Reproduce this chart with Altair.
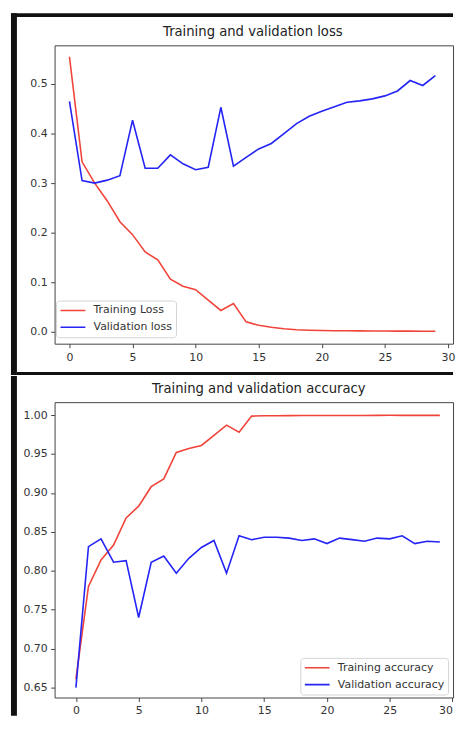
import altair as alt
import pandas as pd

epochs = [0, 1, 2, 3, 4, 5, 6, 7, 8, 9, 10, 11, 12, 13, 14,
          15, 16, 17, 18, 19, 20, 21, 22, 23, 24, 25, 26, 27, 28, 29]

train_loss = [0.555, 0.343, 0.300, 0.264, 0.222, 0.196, 0.161, 0.145, 0.106, 0.092,
              0.085, 0.064, 0.043, 0.057, 0.020, 0.013, 0.009, 0.006, 0.004, 0.003,
              0.0025, 0.002, 0.002, 0.0018, 0.0016, 0.0015, 0.0014, 0.0013, 0.0012, 0.0011]
val_loss = [0.465, 0.305, 0.300, 0.306, 0.315, 0.427, 0.330, 0.330, 0.357, 0.339,
            0.327, 0.332, 0.453, 0.334, 0.352, 0.369, 0.380, 0.400, 0.420, 0.435,
            0.445, 0.454, 0.463, 0.466, 0.470, 0.476, 0.486, 0.507, 0.497, 0.517]

train_acc = [0.661, 0.780, 0.814, 0.833, 0.868, 0.883, 0.908, 0.918, 0.952, 0.957,
             0.961, 0.974, 0.987, 0.978, 0.9986, 0.9990, 0.9992, 0.9993, 0.9994, 0.9995,
             0.9995, 0.9994, 0.9995, 0.9995, 0.9996, 0.9997, 0.9996, 0.9996, 0.9996, 0.9996]
val_acc = [0.650, 0.831, 0.841, 0.811, 0.813, 0.740, 0.811, 0.819, 0.797, 0.816,
           0.830, 0.839, 0.797, 0.845, 0.840, 0.843, 0.843, 0.842, 0.839, 0.841,
           0.835, 0.842, 0.840, 0.838, 0.842, 0.841, 0.845, 0.835, 0.838, 0.837]

loss_names = ["Training Loss", "Validation loss"]
acc_names = ["Training accuracy", "Validation accuracy"]
loss_title = "Training and validation loss"
acc_title = "Training and validation accuracy"
x_ticks = [0, 5, 10, 15, 20, 25, 30]
loss_ticks = [0.0, 0.1, 0.2, 0.3, 0.4, 0.5]
acc_ticks = [0.65, 0.70, 0.75, 0.80, 0.85, 0.90, 0.95, 1.00]

RED = "#f0443a"
BLUE = "#2424f5"
FONT = "DejaVu Sans"
INK = "#111111"

loss_df = pd.DataFrame({
    "epoch": epochs + epochs,
    "value": train_loss + val_loss,
    "series": [loss_names[0]] * len(epochs) + [loss_names[1]] * len(epochs),
})
acc_df = pd.DataFrame({
    "epoch": epochs + epochs,
    "value": train_acc + val_acc,
    "series": [acc_names[0]] * len(epochs) + [acc_names[1]] * len(epochs),
})
deco = pd.DataFrame({"d": [0]})

W = 402  # plot width (both panels)


def legend(lx, ly):
    return alt.Legend(
        title=None, orient="none", legendX=lx, legendY=ly,
        fillColor="white", strokeColor="#d4d4d4", cornerRadius=3, padding=3.5,
        symbolType="stroke", symbolSize=625, symbolStrokeWidth=1.6,
        clipHeight=13, rowPadding=4, labelOffset=7.3, symbolOffset=0,
        labelFont=FONT, labelFontSize=11, labelColor="#333",
    )


def panel(df, names, xdom, ydom, yticks, yfmt, h, lx, ly, title, tx,
          bar_top, bar_bottom, top_line, sep_line):
    lines = alt.Chart(df).mark_line(strokeWidth=1.6).encode(
        x=alt.X("epoch:Q", scale=alt.Scale(domain=xdom, nice=False, zero=False),
                axis=alt.Axis(values=x_ticks, format="d", title=None)),
        y=alt.Y("value:Q", scale=alt.Scale(domain=ydom, nice=False, zero=False),
                axis=alt.Axis(values=yticks, format=yfmt, title=None)),
        color=alt.Color("series:N", scale=alt.Scale(domain=names, range=[RED, BLUE]),
                        legend=legend(lx, ly)),
        detail="series:N",
    )
    ttl = alt.Chart(deco).mark_text(
        text=title, font=FONT, fontSize=13.3, color="#222",
        align="center", baseline="alphabetic",
    ).encode(x=alt.value(tx), y=alt.value(-9.5))
    layers = [lines, ttl]
    layers.append(alt.Chart(deco).mark_rect(color=INK, strokeWidth=0).encode(
        x=alt.value(-44), x2=alt.value(-38), y=alt.value(bar_top), y2=alt.value(bar_bottom)))
    if top_line is not None:
        layers.append(alt.Chart(deco).mark_rect(color=INK, strokeWidth=0).encode(
            x=alt.value(-44), x2=alt.value(W),
            y=alt.value(top_line[0]), y2=alt.value(top_line[1])))
    if sep_line is not None:
        layers.append(alt.Chart(deco).mark_rect(color=INK, strokeWidth=0).encode(
            x=alt.value(-38), x2=alt.value(W),
            y=alt.value(sep_line[0]), y2=alt.value(sep_line[1])))
    return alt.layer(*layers).properties(width=W, height=h)


top = panel(loss_df, loss_names, [-1.178, 30.4], [-0.024, 0.578], loss_ticks, ".1f",
            301, 1.5, 257.5, loss_title, 200,
            -32.5, 332.5, (-32.5, -28.5), (329.5, 332.5))
bottom = panel(acc_df, acc_names, [-1.7, 30.05], [0.6373, 1.01655], acc_ticks, ".2f",
               298, 248, 258, acc_title, 206,
               -26.5, 316.5, None, None)

chart = alt.vconcat(top, bottom, spacing=0).resolve_scale(
    color="independent", x="independent", y="independent",
).resolve_legend(
    color="independent",
).properties(
    padding={"left": 2, "top": 1.5, "right": 0, "bottom": 0},
    background="white",
).configure_view(
    stroke="#444", strokeWidth=1,
).configure_axis(
    grid=False, domain=False,
    labelFont=FONT, labelFontSize=11, labelColor="#333",
    tickColor="#444", tickSize=4, tickWidth=1, labelPadding=3.5,
)

chart.save("out.html", embed_options={"renderer": "svg", "actions": False})
